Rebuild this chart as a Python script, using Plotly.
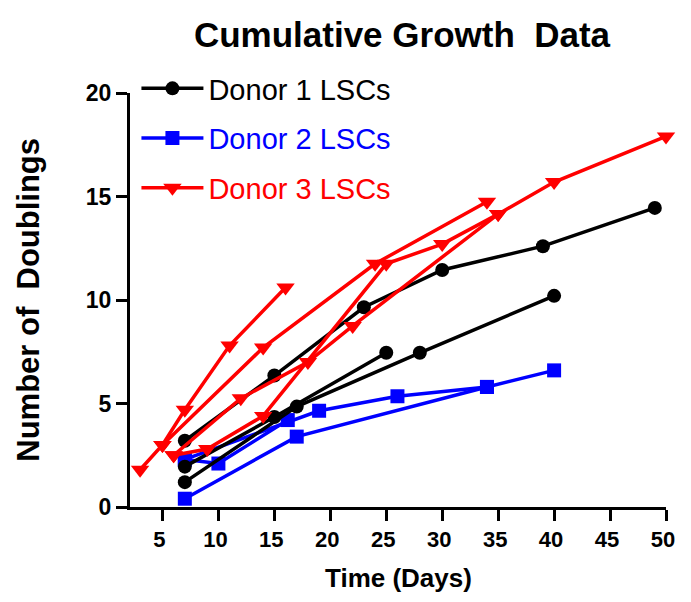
import plotly.graph_objects as go

# ---- data ----
d1a_x = [7, 15, 23, 30, 39, 49]
d1a_y = [3.2, 6.35, 9.65, 11.45, 12.6, 14.45]
d1b_x = [7, 15, 25]
d1b_y = [1.95, 4.35, 7.45]
d1c_x = [7, 17, 28, 40]
d1c_y = [1.2, 4.85, 7.45, 10.2]

d2a_x = [7, 19, 26, 34, 40]
d2a_y = [2.3, 4.65, 5.35, 5.8, 6.6]
d2b_x = [7, 10, 16.2]
d2b_y = [2.3, 2.1, 4.2]
d2c_x = [7, 17, 34]
d2c_y = [0.4, 3.4, 5.8]

d3a_x = [3, 5, 7, 11, 16]
d3a_y = [1.8, 3.0, 4.7, 7.8, 10.6]
d3b_x = [5, 14, 24, 34]
d3b_y = [3.0, 7.7, 11.75, 14.75]
d3c_x = [6, 12, 18, 22, 35, 40, 50]
d3c_y = [2.5, 5.25, 7.0, 8.75, 14.15, 15.7, 17.9]
d3d_x = [6, 9, 14, 25, 30, 35]
d3d_y = [2.5, 2.8, 4.4, 11.75, 12.7, 14.15]

legend_names = ["Donor 1 LSCs", "Donor 2 LSCs", "Donor 3 LSCs"]
colors = ["#000000", "#0000FF", "#FF0000"]
symbols = ["circle", "square", "triangle-down"]
msizes = [14, 14, 16]

groups = [
    [(d1a_x, d1a_y), (d1b_x, d1b_y), (d1c_x, d1c_y)],
    [(d2a_x, d2a_y), (d2b_x, d2b_y), (d2c_x, d2c_y)],
    [(d3a_x, d3a_y), (d3b_x, d3b_y), (d3c_x, d3c_y), (d3d_x, d3d_y)],
]

x_ticks = [5, 10, 15, 20, 25, 30, 35, 40, 45, 50]
y_ticks = [0, 5, 10, 15, 20]

FONT = "Arial, Liberation Sans, sans-serif"

# page body has an 8px margin on every side; size the figure to fit the window
OFF = 8
W, H = 691 - 2 * OFF, 602 - 2 * OFF
L = 130 - OFF
T = 93 - OFF
R = W - (675 - OFF)
B = H - (507 - OFF)
PH = H - T - B
PW = W - L - R

fig = go.Figure()
order = [1, 0, 2]
for gi in order:
    for si, (xs, ys) in enumerate(groups[gi]):
        fig.add_trace(go.Scatter(
            x=xs, y=ys, mode="lines+markers",
            line=dict(color=colors[gi], width=3.5),
            marker=dict(color=colors[gi], symbol=symbols[gi], size=msizes[gi]),
            name='<span style="color:%s">%s</span>' % (colors[gi], legend_names[gi]),
            legendgroup="g%d" % gi,
            legendrank=gi + 1,
            showlegend=(si == 0),
            cliponaxis=False,
        ))

fig.update_layout(
    width=W, height=H, autosize=False,
    margin=dict(l=L, r=R, t=T, b=B),
    paper_bgcolor="white", plot_bgcolor="white",
    font=dict(family=FONT, color="black"),
    title=dict(text="<b>Cumulative Growth  Data</b>", x=(402 - OFF) / W, xanchor="center",
               y=1 - (35 - OFF) / H, yanchor="middle", yref="container",
               font=dict(size=35, family=FONT, color="black")),
    showlegend=True,
    legend=dict(x=0.012, y=(PH + T - (63 - OFF)) / PH, xanchor="left", yanchor="top",
                bgcolor="rgba(0,0,0,0)", font=dict(size=29, family=FONT),
                traceorder="grouped", tracegroupgap=9, itemwidth=62),
    xaxis=dict(range=[2.1, 50], tickmode="array", tickvals=x_ticks,
               ticktext=["<b>%d</b>" % v for v in x_ticks],
               showgrid=False, zeroline=False, showline=True,
               linecolor="black", linewidth=3, ticks="outside",
               ticklen=11, tickwidth=3, tickcolor="black",
               ticklabeloverflow="allow", ticklabelshift=-3,
               tickfont=dict(size=22, family=FONT, color="black")),
    yaxis=dict(range=[0, 20], tickmode="array", tickvals=y_ticks,
               ticktext=["<b>%d</b>" % v for v in y_ticks],
               showgrid=False, zeroline=False, showline=True,
               linecolor="black", linewidth=3, ticks="outside",
               ticklen=11, tickwidth=3, tickcolor="black",
               tickfont=dict(size=23, family=FONT, color="black")),
    annotations=[
        dict(text="<b>Time (Days)</b>", xref="paper", yref="paper",
             x=(403 - OFF - L) / PW, y=-(578 - 507) / PH, xanchor="center", yanchor="middle",
             showarrow=False, font=dict(size=26, family=FONT, color="black")),
        dict(text="<b>Number of  Doublings</b>", xref="paper", yref="paper",
             x=(26 - OFF - L) / PW, y=0.5, xanchor="center", yanchor="middle",
             textangle=-90, showarrow=False,
             font=dict(size=31, family=FONT, color="black")),
    ],
)

fig.write_html("out.html", config={"displayModeBar": False})
